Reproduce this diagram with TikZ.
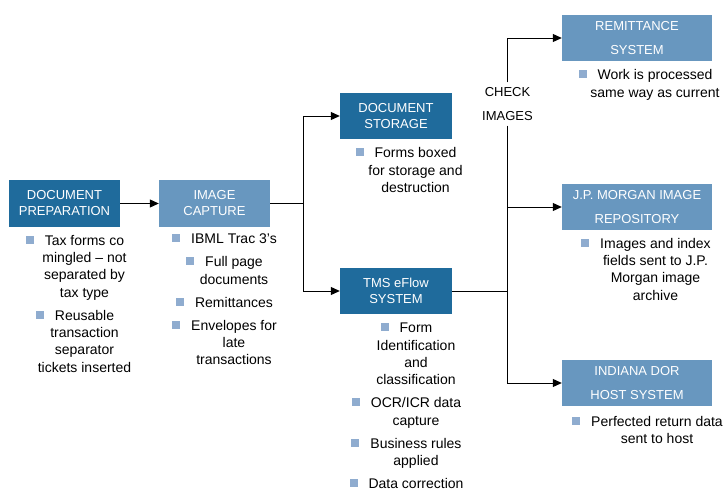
\documentclass[tikz,border=0pt]{standalone}
\usepackage{fontspec}
\setmainfont{Liberation Sans}
\usetikzlibrary{arrows.meta, positioning}
\definecolor{darkblue}{HTML}{1F6B9C}
\definecolor{lightblue}{HTML}{6897BF}
\definecolor{bulletblue}{HTML}{8FACCF}
\newcommand{\boxtxt}{\fontsize{13}{16}\selectfont}
\newcommand{\notetxt}{\fontsize{14}{17.3}\selectfont}
\newcommand{\bul}{\llap{\textcolor{bulletblue}{\rule[1.5pt]{8pt}{8pt}}\hspace{11pt}}}
\tikzset{
  darkbox/.style={fill=darkblue, text=white, font=\boxtxt, align=center, inner sep=0pt, minimum width=111pt, minimum height=47pt},
  lightbox/.style={darkbox, fill=lightblue},
  widebox/.style={lightbox, minimum width=150pt, minimum height=46pt, font=\fontsize{13}{24}\selectfont},
  notes/.style={font=\notetxt, align=center, inner sep=0pt, anchor=north},
  wire/.style={line width=1pt},
  link/.style={wire, -{Triangle[length=9pt,width=8pt]}}
}
\begin{document}
\begin{tikzpicture}[x=1pt, y=-1pt]
\useasboundingbox (0,0) rectangle (726,493);
\node[darkbox] (prep) at (64.5,203.5) {DOCUMENT\\PREPARATION};
\node[lightbox] (capture) at (214.5,203.5) {IMAGE\\CAPTURE};
\node[darkbox, minimum width=112pt, minimum height=46pt] (storage) at (396,116) {DOCUMENT\\STORAGE};
\node[darkbox, minimum width=112pt, minimum height=46pt] (tms) at (396,291) {TMS eFlow\\SYSTEM};
\node[widebox] (remit) at (637,38) {REMITTANCE\\SYSTEM};
\node[widebox] (jpm) at (637,207) {J.P. MORGAN IMAGE\\REPOSITORY};
\node[widebox] (dor) at (637,383) {INDIANA DOR\\HOST SYSTEM};
\node[font=\boxtxt, align=center, inner xsep=0pt, inner ysep=5pt] (check) at (507.5,104) {CHECK\\[7.5pt]IMAGES};

\node[notes] (prepnotes) at (84.5,235) {\bul Tax forms co\\ mingled – not\\ separated by\\ tax type\\[5.7pt]
  \bul Reusable\\ transaction\\ separator\\ tickets inserted};
\node[notes] (capturenotes) at (234,234) {\bul IBML Trac 3’s\\[5.7pt] \bul Full page\\ documents\\[5.7pt]
  \bul Remittances\\[5.7pt] \bul Envelopes for\\ late\\ transactions};
\node[notes] (storagenotes) at (415.5,147.5) {\bul Forms boxed\\ for storage and\\ destruction};
\node[notes] (tmsnotes) at (416,323) {\bul Form\\ Identification\\ and\\ classification\\[5.7pt]
  \bul OCR/ICR data\\ capture\\[5.7pt] \bul Business rules\\ applied\\[5.7pt] \bul Data correction};
\node[notes] (remitnotes) at (655,69.5) {\bul Work is processed\\ same way as current};
\node[notes] (jpmnotes) at (655.5,238) {\bul Images and index\\ fields sent to J.P.\\ Morgan image\\ archive};
\node[notes] (dornotes) at (657,416) {\bul Perfected return data\\ sent to host};

\coordinate (split) at (303,203.5);
\draw[link] (prep) -- (capture);
\draw[wire] (capture) -- (split);
\draw[link] (split) |- (storage);
\draw[link] (split) |- (tms);
\draw[wire] (tms) -- (tms -| check);
\draw[link] (check.north) |- (remit);
\draw[link] (check.south) |- (dor);
\draw[link] (check.south |- jpm) -- (jpm);
\end{tikzpicture}
\end{document}
